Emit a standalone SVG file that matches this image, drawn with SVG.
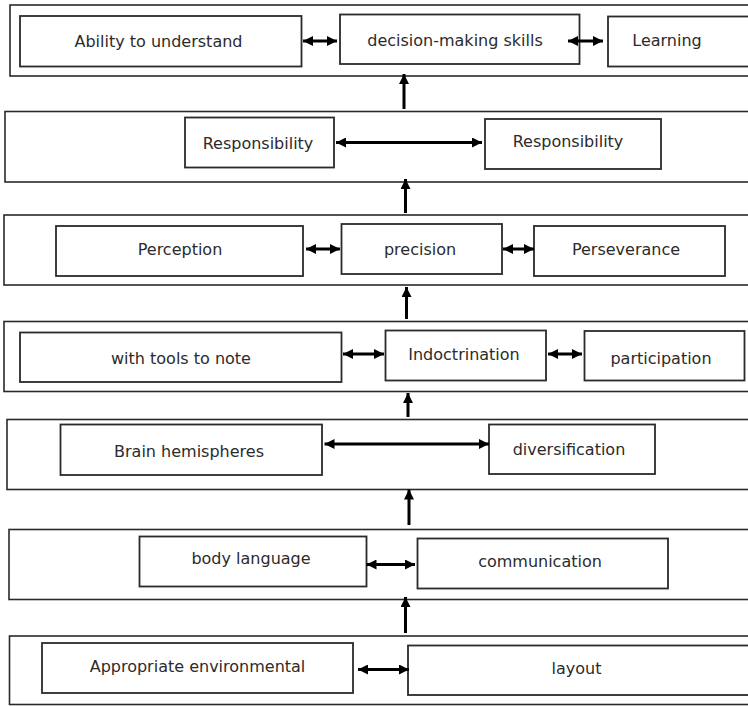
<svg xmlns="http://www.w3.org/2000/svg" width="748" height="706" viewBox="0 0 748 706">
  <style>
    .band { fill: #ffffff; stroke: #2a2a2a; stroke-width: 1.6; }
    .box { fill: #ffffff; stroke: #2a2a2a; stroke-width: 1.8; }
    .lbl { font-family: "DejaVu Sans", Verdana, sans-serif; font-size: 16px; fill: #2b2b2b; text-anchor: middle; }
    .link { stroke: #000000; stroke-width: 3; fill: none; }
  </style>
  <defs>
    <marker id="head" markerUnits="userSpaceOnUse" markerWidth="10" markerHeight="10" refX="10" refY="5" orient="auto-start-reverse">
      <path d="M0,0 L10,5 L0,10 z" fill="#000000"/>
    </marker>
  </defs>
  <rect width="748" height="706" fill="#ffffff"/>

  <!-- level bands, drawn wider than the page so their right sides are cut off -->
  <g id="bands">
    <rect class="band" x="10" y="5" width="760" height="71"/>
    <rect class="band" x="5" y="111.5" width="760" height="70.5"/>
    <rect class="band" x="4" y="215" width="760" height="70"/>
    <rect class="band" x="4" y="321.5" width="760" height="70"/>
    <rect class="band" x="7" y="419.5" width="760" height="70"/>
    <rect class="band" x="9" y="529.5" width="760" height="70"/>
    <rect class="band" x="9.5" y="636" width="760" height="68.5"/>
  </g>

  <!-- level 1 -->
  <g id="ability">
    <rect class="box" x="20" y="16" width="281.5" height="50.5"/>
    <text class="lbl" x="158.5" y="46.5">Ability to understand</text>
  </g>
  <g id="decision">
    <rect class="box" x="340" y="14.5" width="239.5" height="49.5"/>
    <text class="lbl" x="455" y="46">decision-making skills</text>
  </g>
  <g id="learning">
    <rect class="box" x="608" y="16.5" width="160" height="50"/>
    <text class="lbl" x="667" y="46">Learning</text>
  </g>

  <!-- level 2 -->
  <g id="responsibility-1">
    <rect class="box" x="185" y="117.5" width="149" height="50"/>
    <text class="lbl" x="258" y="149">Responsibility</text>
  </g>
  <g id="responsibility-2">
    <rect class="box" x="485" y="119" width="176" height="50"/>
    <text class="lbl" x="568" y="147">Responsibility</text>
  </g>

  <!-- level 3 -->
  <g id="perception">
    <rect class="box" x="56" y="226" width="247" height="50"/>
    <text class="lbl" x="180" y="255">Perception</text>
  </g>
  <g id="precision">
    <rect class="box" x="341.5" y="224" width="160.5" height="50"/>
    <text class="lbl" x="420" y="255">precision</text>
  </g>
  <g id="perseverance">
    <rect class="box" x="534" y="226" width="191" height="50"/>
    <text class="lbl" x="626" y="255">Perseverance</text>
  </g>

  <!-- level 4 -->
  <g id="tools">
    <rect class="box" x="20" y="332.5" width="321.5" height="49.5"/>
    <text class="lbl" x="181" y="363.5">with tools to note</text>
  </g>
  <g id="indoctrination">
    <rect class="box" x="385.5" y="330.5" width="160.5" height="50"/>
    <text class="lbl" x="464" y="359.5">Indoctrination</text>
  </g>
  <g id="participation">
    <rect class="box" x="584.5" y="331" width="160" height="49.5"/>
    <text class="lbl" x="661" y="364">participation</text>
  </g>

  <!-- level 5 -->
  <g id="brain">
    <rect class="box" x="60.5" y="424.5" width="261.5" height="50.5"/>
    <text class="lbl" x="189" y="457">Brain hemispheres</text>
  </g>
  <g id="diversification">
    <rect class="box" x="489" y="424.5" width="166" height="49.5"/>
    <text class="lbl" x="569" y="455">diversification</text>
  </g>

  <!-- level 6 -->
  <g id="body-language">
    <rect class="box" x="139.5" y="536.5" width="227" height="50"/>
    <text class="lbl" x="251" y="563.5">body language</text>
  </g>
  <g id="communication">
    <rect class="box" x="417.5" y="538.5" width="250.5" height="50"/>
    <text class="lbl" x="540" y="567">communication</text>
  </g>

  <!-- level 7 -->
  <g id="environment">
    <rect class="box" x="42" y="643" width="311" height="50"/>
    <text class="lbl" x="197.5" y="672">Appropriate environmental</text>
  </g>
  <g id="layout">
    <rect class="box" x="408" y="645.5" width="360" height="49.5"/>
    <text class="lbl" x="576.5" y="673.5">layout</text>
  </g>

  <!-- connectors -->
  <g id="connectors">
    <!-- two-way links inside each level -->
    <line class="link" x1="303" y1="41" x2="337" y2="41" marker-start="url(#head)" marker-end="url(#head)"/>
    <line class="link" x1="568" y1="41" x2="603" y2="41" marker-start="url(#head)" marker-end="url(#head)"/>
    <line class="link" x1="336" y1="142.5" x2="482" y2="142.5" marker-start="url(#head)" marker-end="url(#head)"/>
    <line class="link" x1="306" y1="249" x2="340" y2="249" marker-start="url(#head)" marker-end="url(#head)"/>
    <line class="link" x1="503" y1="249" x2="534" y2="249" marker-start="url(#head)" marker-end="url(#head)"/>
    <line class="link" x1="343" y1="354" x2="384" y2="354" marker-start="url(#head)" marker-end="url(#head)"/>
    <line class="link" x1="548" y1="354" x2="582" y2="354" marker-start="url(#head)" marker-end="url(#head)"/>
    <line class="link" x1="324.5" y1="444" x2="489" y2="444" marker-start="url(#head)" marker-end="url(#head)"/>
    <line class="link" x1="366.5" y1="564.5" x2="415" y2="564.5" marker-start="url(#head)" marker-end="url(#head)"/>
    <line class="link" x1="358" y1="669.5" x2="409" y2="669.5" marker-start="url(#head)" marker-end="url(#head)"/>
    <!-- upward links between levels -->
    <line class="link" x1="404" y1="109" x2="404" y2="74" marker-end="url(#head)"/>
    <line class="link" x1="405.5" y1="213" x2="405.5" y2="179" marker-end="url(#head)"/>
    <line class="link" x1="406.5" y1="319" x2="406.5" y2="287" marker-end="url(#head)"/>
    <line class="link" x1="408" y1="417" x2="408" y2="393" marker-end="url(#head)"/>
    <line class="link" x1="409" y1="525" x2="409" y2="489.5" marker-end="url(#head)"/>
    <line class="link" x1="405.5" y1="633" x2="405.5" y2="597" marker-end="url(#head)"/>
  </g>
</svg>
